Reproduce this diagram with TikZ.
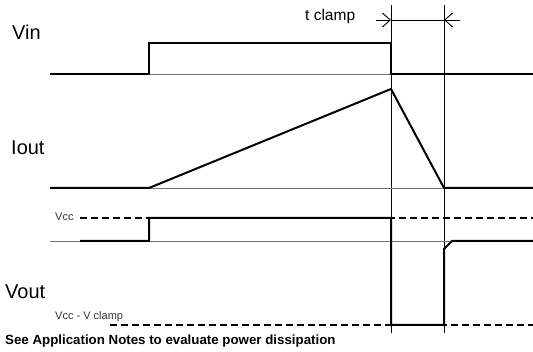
\documentclass[tikz,border=0pt]{standalone}
\usepackage{fontspec}
\setmainfont{Liberation Sans}
\usetikzlibrary{arrows.meta}

\begin{document}
\begin{tikzpicture}[x=1pt,y=-1pt,
	sig/.style={line width=2pt,line join=miter},
	base/.style={line width=0.9pt,color=black!55},
	edge/.style={line width=0.9pt},
	lvl/.style={line width=2pt,dash pattern=on 7pt off 4pt},
	big/.style={font=\fontsize{20}{24}\selectfont,anchor=base west,inner sep=0pt},
	small/.style={font=\fontsize{11}{13}\selectfont,anchor=base west,inner sep=0pt,color=black!80}]
					\useasboundingbox (0,0) rectangle (533,352);
					\draw[edge] (391,5) -- (391,333);
					\draw[edge] (444,5) -- (444,333);
					\coordinate (ta) at (376,20);
					\coordinate (tb) at (391,20);
					\coordinate (tc) at (444,20);
					\coordinate (td) at (460,20);
					\draw[edge,-{Straight Barb[length=8pt,width=14pt]}] (ta) -- (tb);
					\draw[edge] (tb) -- (tc);
					\draw[edge,-{Straight Barb[length=8pt,width=14pt]}] (td) -- (tc);
					\node[small,font=\fontsize{15.5}{18}\selectfont,color=black] (tclamp) at (305,21) {t clamp};
						\node[big] (vin) at (12,40) {Vin};
						\draw[base] (149,74) -- (391,74);
						\draw[sig] (50,74) -- (149,74) -- (149,43) -- (391,43) -- (391,74) -- (533,74);
						\node[big] (iout) at (11,155) {Iout};
						\draw[base] (149,188) -- (444,188);
						\draw[sig] (50,188) -- (149,188) -- (391,89) -- (444,188) -- (533,188);
						\node[big] (vout) at (5,299) {Vout};
						\node[small] (vcc) at (55,221) {Vcc};
						\node[small] (vclamp) at (55,320) {Vcc - V clamp};
						\draw[lvl] (80,218) -- (533,218);
						\draw[lvl] (110,325) -- (533,325);
						\draw[base] (50,241) -- (533,241);
						\draw[sig] (80,241) -- (149,241) -- (149,218) -- (391,218) -- (391,325) -- (444,325) -- (444,249) -- (452,241) -- (533,241);
						\node[anchor=base west,inner sep=0pt,font=\fontsize{13.3}{16}\selectfont\bfseries] (note) at (5,345) {See Application Notes to evaluate power dissipation};
				\end{tikzpicture}
\end{document}
